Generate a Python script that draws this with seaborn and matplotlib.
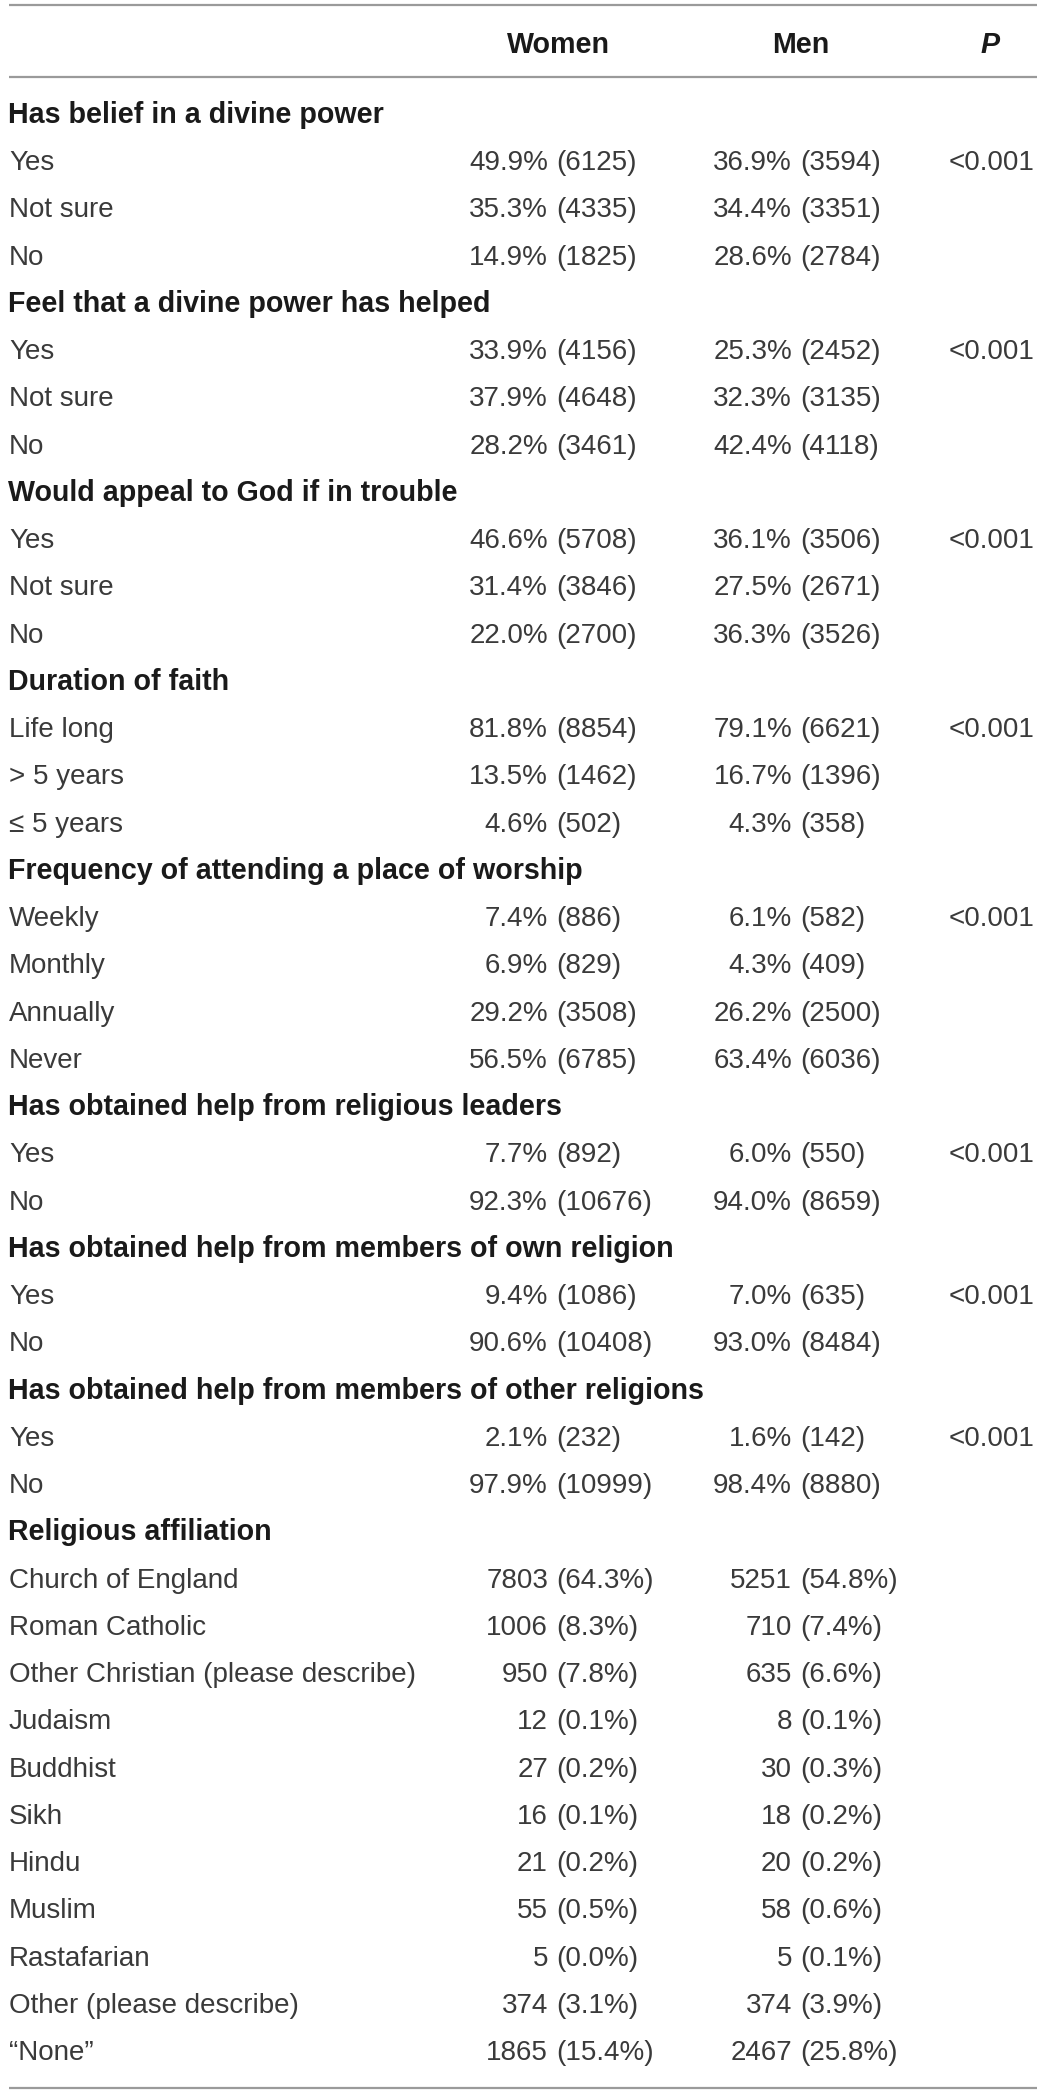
import matplotlib
matplotlib.use("Agg")
import matplotlib.pyplot as plt
import seaborn as sns

# Table contents
sections = ["Has belief in a divine power",
            "Feel that a divine power has helped",
            "Would appeal to God if in trouble",
            "Duration of faith",
            "Frequency of attending a place of worship",
            "Has obtained help from religious leaders",
            "Has obtained help from members of own religion",
            "Has obtained help from members of other religions",
            "Religious affiliation"]

three_labels = ["Yes", "Not sure", "No"]
yes_no = ["Yes", "No"]
duration_labels = ["Life long", "> 5 years", "≤ 5 years"]
worship_labels = ["Weekly", "Monthly", "Annually", "Never"]
affil_labels = ["Church of England", "Roman Catholic", "Other Christian (please describe)",
                "Judaism", "Buddhist", "Sikh", "Hindu", "Muslim", "Rastafarian",
                "Other (please describe)", "“None”"]

# (percent, count)
belief_women = [(49.9, 6125), (35.3, 4335), (14.9, 1825)]
belief_men = [(36.9, 3594), (34.4, 3351), (28.6, 2784)]
helped_women = [(33.9, 4156), (37.9, 4648), (28.2, 3461)]
helped_men = [(25.3, 2452), (32.3, 3135), (42.4, 4118)]
appeal_women = [(46.6, 5708), (31.4, 3846), (22.0, 2700)]
appeal_men = [(36.1, 3506), (27.5, 2671), (36.3, 3526)]
duration_women = [(81.8, 8854), (13.5, 1462), (4.6, 502)]
duration_men = [(79.1, 6621), (16.7, 1396), (4.3, 358)]
worship_women = [(7.4, 886), (6.9, 829), (29.2, 3508), (56.5, 6785)]
worship_men = [(6.1, 582), (4.3, 409), (26.2, 2500), (63.4, 6036)]
leaders_women = [(7.7, 892), (92.3, 10676)]
leaders_men = [(6.0, 550), (94.0, 8659)]
own_women = [(9.4, 1086), (90.6, 10408)]
own_men = [(7.0, 635), (93.0, 8484)]
other_women = [(2.1, 232), (97.9, 10999)]
other_men = [(1.6, 142), (98.4, 8880)]
# (count, percent) for affiliation
affil_women = [(7803, 64.3), (1006, 8.3), (950, 7.8), (12, 0.1), (27, 0.2), (16, 0.1),
               (21, 0.2), (55, 0.5), (5, 0.0), (374, 3.1), (1865, 15.4)]
affil_men = [(5251, 54.8), (710, 7.4), (635, 6.6), (8, 0.1), (30, 0.3), (18, 0.2),
             (20, 0.2), (58, 0.6), (5, 0.1), (374, 3.9), (2467, 25.8)]

p_values = ["<0.001"] * 8 + [""]

blocks = [
    (three_labels, belief_women, belief_men, "pct"),
    (three_labels, helped_women, helped_men, "pct"),
    (three_labels, appeal_women, appeal_men, "pct"),
    (duration_labels, duration_women, duration_men, "pct"),
    (worship_labels, worship_women, worship_men, "pct"),
    (yes_no, leaders_women, leaders_men, "pct"),
    (yes_no, own_women, own_men, "pct"),
    (yes_no, other_women, other_men, "pct"),
    (affil_labels, affil_women, affil_men, "count"),
]

sns.set_theme(style="white")
plt.rcParams['font.family'] = ['Liberation Sans', 'DejaVu Sans']

W, H = 1043, 2094
fig = plt.figure(figsize=(W / 100, H / 100), dpi=100)
ax = fig.add_axes([0, 0, 1, 1])
ax.set_xlim(0, W)
ax.set_ylim(H, 0)
ax.axis("off")

fs = 20
fs_b = 20.6
txt = "#3a3a3a"
bold_c = "#1a1a1a"
line_c = "#9a9a9a"
cap = 10  # half cap height in px, to put baselines

# rules
for y in (5, 77, 2088):
    ax.plot([9, 1037], [y, y], color=line_c, lw=1.6, solid_capstyle="butt")

# header
ax.text(558, 43 + cap, "Women", ha="center", va="baseline", fontsize=fs_b,
        fontweight="bold", color=bold_c)
ax.text(801, 43 + cap, "Men", ha="center", va="baseline", fontsize=fs_b,
        fontweight="bold", color=bold_c)
ax.text(990, 43 + cap, "P", ha="center", va="baseline", fontsize=fs_b,
        fontweight="bold", fontstyle="italic", color=bold_c)

y0, y1 = 113, 2050
n_rows = len(sections) + sum(len(b[0]) for b in blocks)
step = (y1 - y0) / (n_rows - 1)


def cell(ax, xsplit, y, left, right):
    ax.text(xsplit - 9, y, left, ha="right", va="baseline", fontsize=fs, color=txt)
    ax.text(xsplit - 1, y, right, ha="left", va="baseline", fontsize=fs, color=txt)


row = 0
for title, (labels, women, men, kind), p in zip(sections, blocks, p_values):
    y = y0 + row * step + cap
    ax.text(8, y, title, ha="left", va="baseline", fontsize=fs_b,
            fontweight="bold", color=bold_c)
    row += 1
    for i, lab in enumerate(labels):
        y = y0 + row * step + cap
        ax.text(9, y, lab, ha="left", va="baseline", fontsize=fs, color=txt)
        for xs, vals in ((557, women), (801, men)):
            a, b = vals[i]
            if kind == "pct":
                cell(ax, xs, y, f"{a:.1f}%", f"({b})")
            else:
                cell(ax, xs, y, f"{a}", f"({b:.1f}%)")
        if i == 0 and p:
            ax.text(1034, y, p, ha="right", va="baseline", fontsize=fs, color=txt)
        row += 1

fig.savefig("out.png", dpi=100, facecolor="white")
